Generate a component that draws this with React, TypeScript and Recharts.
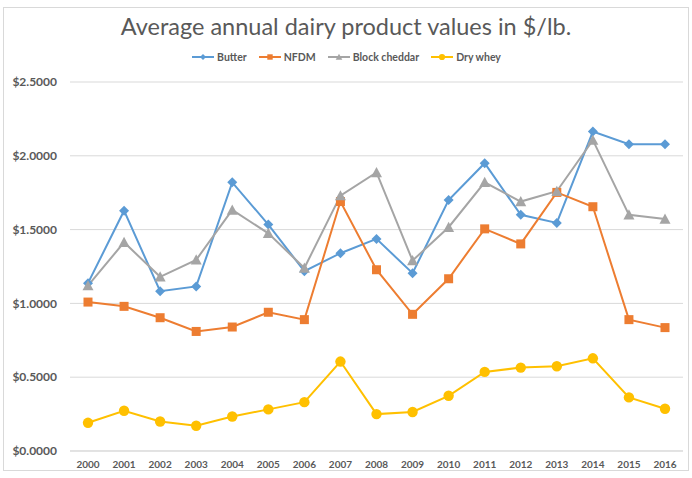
import { LineChart, Line, XAxis, YAxis, CartesianGrid } from 'recharts';

const YEARS = ['2000', '2001', '2002', '2003', '2004', '2005', '2006', '2007', '2008', '2009', '2010', '2011', '2012', '2013', '2014', '2015', '2016'];
const BUTTER = [1.137, 1.628, 1.083, 1.115, 1.82, 1.534, 1.218, 1.34, 1.437, 1.205, 1.7, 1.95, 1.6, 1.545, 2.164, 2.079, 2.079];
const NFDM = [1.009, 0.98, 0.903, 0.81, 0.84, 0.94, 0.89, 1.69, 1.228, 0.926, 1.167, 1.505, 1.403, 1.752, 1.655, 0.89, 0.836];
const CHEDDAR = [1.12, 1.414, 1.18, 1.295, 1.633, 1.475, 1.24, 1.73, 1.887, 1.29, 1.516, 1.82, 1.69, 1.76, 2.106, 1.6, 1.572];
const DRY_WHEY = [0.191, 0.273, 0.2, 0.171, 0.234, 0.282, 0.331, 0.606, 0.25, 0.264, 0.374, 0.536, 0.565, 0.574, 0.628, 0.363, 0.286];
const Y_TICKS = [0, 0.5, 1, 1.5, 2, 2.5];

const FONT = 'Lato, "Open Sans", sans-serif';
const TEXT = '#595959';

const SERIES = [
  { key: 'butter', name: 'Butter', color: '#5B9BD5', shape: 'diamond' },
  { key: 'nfdm', name: 'NFDM', color: '#ED7D31', shape: 'square' },
  { key: 'cheddar', name: 'Block cheddar', color: '#A5A5A5', shape: 'triangle' },
  { key: 'whey', name: 'Dry whey', color: '#FFC000', shape: 'circle' },
];

const data = YEARS.map((year, i) => ({
  year,
  butter: BUTTER[i],
  nfdm: NFDM[i],
  cheddar: CHEDDAR[i],
  whey: DRY_WHEY[i],
}));

function marker(shape: string, cx: number, cy: number, color: string, s = 1, key?: any) {
  if (shape === 'diamond') {
    const r = 5 * s;
    return <polygon key={key} points={`${cx},${cy - r} ${cx + r},${cy} ${cx},${cy + r} ${cx - r},${cy}`} fill={color} />;
  }
  if (shape === 'square') {
    const r = 4.5 * s;
    return <rect key={key} x={cx - r} y={cy - r} width={2 * r} height={2 * r} fill={color} />;
  }
  if (shape === 'triangle') {
    const r = 5.5 * s;
    return <polygon key={key} points={`${cx},${cy - r} ${cx + r},${cy + r * 0.85} ${cx - r},${cy + r * 0.85}`} fill={color} />;
  }
  return <circle key={key} cx={cx} cy={cy} r={5.2 * s} fill={color} />;
}

function Legend() {
  return (
    <div
      style={{
        position: 'absolute',
        top: 51,
        left: 0,
        width: 692,
        display: 'flex',
        justifyContent: 'center',
        gap: 11,
        fontFamily: FONT,
        fontSize: 10.5,
        fontWeight: 700,
        color: TEXT,
      }}
    >
      {SERIES.map((s) => (
        <div key={s.key} style={{ display: 'flex', alignItems: 'center', gap: 2 }}>
          <svg width={24} height={12}>
            <line x1={1} y1={6} x2={23} y2={6} stroke={s.color} strokeWidth={2} />
            {marker(s.shape, 12, 6, s.color, 0.6)}
          </svg>
          <span>{s.name}</span>
        </div>
      ))}
    </div>
  );
}

export default function App() {
  return (
    <div style={{ position: 'absolute', left: 0, top: 0, width: 692, height: 478, background: '#fff' }}>
      <div
        style={{
          position: 'absolute',
          left: 3,
          top: 7,
          width: 684,
          height: 462,
          border: '1px solid #d9d9d9',
        }}
      />
      <div
        style={{
          position: 'absolute',
          top: 12,
          left: 0,
          width: 692,
          textAlign: 'center',
          fontFamily: FONT,
          fontSize: 23.5,
          color: TEXT,
        }}
      >
        Average annual dairy product values in $/lb.
      </div>
      <Legend />
      <div style={{ position: 'absolute', left: 0, top: 0 }}>
        <LineChart width={692} height={478} data={data} margin={{ top: 82, right: 9, bottom: 7, left: 0 }}>
          <CartesianGrid vertical={false} stroke="#d9d9d9" strokeWidth={1} />
          <XAxis
            dataKey="year"
            padding={{ left: 18, right: 18 }}
            axisLine={{ stroke: '#d9d9d9' }}
            tickLine={false}
            height={20}
            tickMargin={4}
            interval={0}
            tick={{ fontSize: 10, fontWeight: 700, fill: TEXT, fontFamily: FONT }}
          />
          <YAxis
            domain={[0, 2.5]}
            ticks={Y_TICKS}
            width={70}
            axisLine={false}
            tickLine={false}
            tickMargin={7}
            tickFormatter={(v: number) => '$' + v.toFixed(4)}
            tick={{ fontSize: 12, fontWeight: 700, fill: TEXT, fontFamily: FONT }}
          />
          {SERIES.map((s) => (
            <Line
              key={s.key}
              dataKey={s.key}
              name={s.name}
              type="linear"
              stroke={s.color}
              strokeWidth={2}
              isAnimationActive={false}
              activeDot={false}
              dot={(p: any) => marker(s.shape, p.cx, p.cy, s.color, 1, p.index)}
            />
          ))}
        </LineChart>
      </div>
    </div>
  );
}
